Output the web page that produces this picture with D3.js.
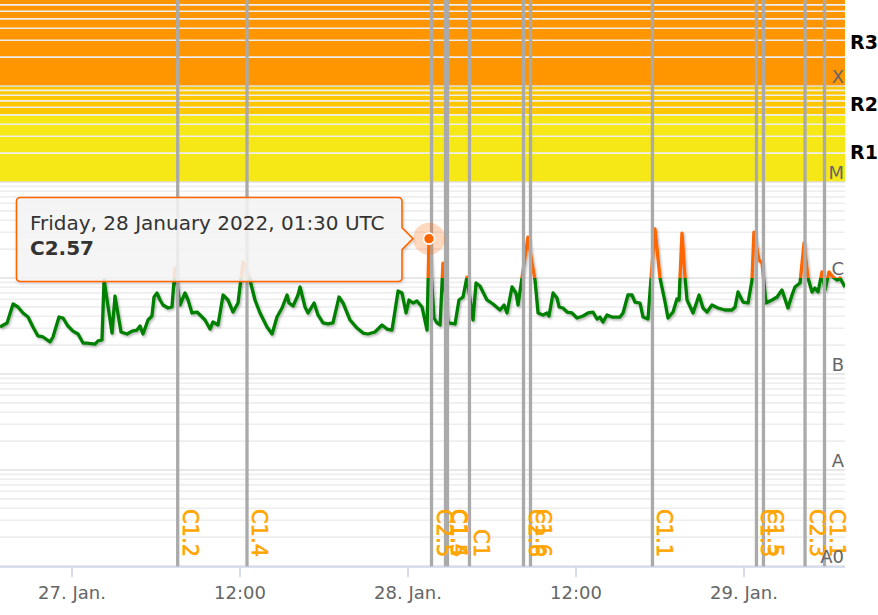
<!DOCTYPE html>
<html><head><meta charset="utf-8">
<script src="https://cdn.jsdelivr.net/npm/d3@7"></script>
<style>html,body{margin:0;padding:0;background:#fff;} svg{display:block;font-family:"DejaVu Sans",sans-serif;}</style>
</head><body>
<svg id="chart" width="878" height="615"></svg>
<script>
// ---- data (hours relative to 27 Jan 2022 00:00 UTC, flux in 1e-6 W/m^2) ----
const baseDate = Date.UTC(2022, 0, 27);
const domainHours = [-5.143, 55.214];
const hours = [
 -5.14,-4.64,-4.21,-3.86,-3.5,-3.14,-2.79,-2.43,-2.07,-1.57,
 -1.36,-0.93,-0.64,-0.29,0.07,0.43,0.79,1.07,1.64,1.86,
 2.14,2.29,2.86,3.07,3.5,3.93,4.29,4.64,4.86,5.07,
 5.43,5.71,5.86,6.07,6.29,6.5,6.86,7.14,7.36,7.71,
 8.07,8.29,8.57,8.93,9.29,9.5,9.86,10.07,10.43,10.79,
 11.14,11.5,11.86,12.21,12.71,13.07,13.43,13.93,14.29,14.64,
 15.0,15.36,15.5,15.79,16.14,16.29,16.64,16.86,17.29,17.57,
 17.93,18.29,18.64,19.07,19.36,19.86,20.36,20.79,21.14,21.64,
 22.14,22.5,22.86,23.29,23.57,23.86,24.07,24.36,24.64,25.0,
 25.36,25.5,25.86,26.07,26.29,26.5,26.71,26.86,27.36,27.64,
 27.93,28.21,28.64,28.86,29.14,29.64,30.07,30.57,30.86,31.07,
 31.43,31.71,31.86,32.14,32.57,32.86,33.07,33.29,33.64,33.93,
 34.07,34.36,34.64,34.79,35.07,35.36,35.71,36.07,36.5,36.86,
 37.21,37.5,37.71,37.93,38.21,38.57,39.14,39.36,39.71,40.0,
 40.21,40.57,40.79,41.14,41.36,41.64,42.0,42.36,42.57,42.93,
 43.21,43.36,43.57,43.79,43.93,44.36,44.79,45.07,45.36,45.71,
 46.14,46.64,47.14,47.36,47.57,47.93,48.29,48.57,48.71,49.07,
 49.29,49.57,50.0,50.36,50.71,51.14,51.43,51.64,52.0,52.29,
 52.57,52.86,53.07,53.29,53.57,53.79,54.07,54.36,54.64,54.86,
 55.21
];
const fluxMicro = [
 0.309,0.340,0.536,0.499,0.432,0.392,0.309,0.249,0.243,0.216,
 0.243,0.392,0.383,0.316,0.280,0.261,0.210,0.210,0.205,0.221,
 0.226,0.953,0.267,0.649,0.274,0.261,0.280,0.287,0.316,0.261,
 0.365,0.402,0.634,0.698,0.590,0.523,0.487,0.499,1.27,0.523,
 0.698,0.590,0.432,0.442,0.392,0.365,0.294,0.348,0.324,0.665,
 0.590,0.442,0.549,1.47,0.953,0.590,0.432,0.309,0.261,0.392,
 0.487,0.665,0.549,0.511,0.665,0.806,0.499,0.432,0.549,0.412,
 0.340,0.332,0.340,0.634,0.549,0.365,0.301,0.267,0.261,0.274,
 0.324,0.294,0.287,0.732,0.698,0.432,0.590,0.549,0.576,0.499,
 0.287,2.57,0.383,0.340,0.324,1.43,0.590,0.340,0.332,0.590,
 0.634,1.02,0.365,0.887,0.826,0.590,0.536,0.464,0.523,0.432,
 0.806,0.698,0.523,1.0,2.67,1.43,0.953,0.432,0.412,0.432,
 0.402,0.698,0.619,0.499,0.487,0.442,0.432,0.383,0.402,0.432,
 0.442,0.374,0.392,0.348,0.412,0.392,0.392,0.432,0.665,0.665,
 0.562,0.549,0.392,0.374,1.0,3.24,1.0,0.562,0.383,0.442,
 0.604,0.590,2.94,1.0,0.590,0.432,0.665,0.487,0.442,0.523,
 0.487,0.464,0.464,0.499,0.715,0.562,0.549,0.953,3.01,1.54,
 1.43,0.549,0.590,0.634,0.750,0.487,0.665,0.806,0.887,2.32,
 1.0,0.715,0.787,0.715,1.155,0.750,1.155,1.02,0.953,1.0,
 0.806
];
const flareHours  = [7.55, 12.5, 25.68, 26.68, 26.82, 28.39, 32.25, 32.75, 41.46, 48.89, 49.39, 52.36, 53.75];
const flareLabels = ["C1.2","C1.4","C2.5","C1.5","C1.4","C1","C2.6","C1.6","C1.1","C1.3","C1.5","C2.3","C1.1"];
const classNames  = ["A0","A","B","C","M","X"];
const classValues = [1e-9,1e-8,1e-7,1e-6,1e-5,1e-4];
const bandNames   = ["R1","R2","R3"];
const bandFrom    = [1e-5, 5e-5, 1e-4];
const bandTo      = [5e-5, 1e-4, 1e-3];
const bandColors  = ["#f5e816","#ffc700","#ff9600"];
const tickHours   = [0, 12, 24, 36, 48];
const tickLabels  = ["27. Jan.","12:00","28. Jan.","12:00","29. Jan."];
const tooltipHour = 25.5;
const tooltipFlux = 2.57e-6;
const threshold   = 1e-6;

// ---- setup ----
const toDate = h => new Date(baseDate + h * 3600e3);
const data = hours.map((h, i) => ({t: toDate(h), v: fluxMicro[i] * 1e-6}));
const plotW = 845, plotB = 566;
const x = d3.scaleUtc().domain(domainHours.map(toDate)).range([0, plotW]);
const y = d3.scaleLog().domain([1e-9, 1e-3]).range([plotB, -10]);

const svg = d3.select("#chart");
const defs = svg.append("defs");
defs.append("clipPath").attr("id","plot").append("rect").attr("x",0).attr("y",0).attr("width",plotW).attr("height",plotB+1);
defs.append("clipPath").attr("id","above").append("rect").attr("x",0).attr("y",-20).attr("width",plotW).attr("height",y(threshold)+20);
defs.append("clipPath").attr("id","below").append("rect").attr("x",0).attr("y",y(threshold)).attr("width",plotW).attr("height",plotB-y(threshold)+5);
const sh = defs.append("filter").attr("id","shadow").attr("x","-5%").attr("y","-20%").attr("width","110%").attr("height","140%");
sh.append("feDropShadow").attr("dx",1.2).attr("dy",1.6).attr("stdDeviation",1.3).attr("flood-color","#000").attr("flood-opacity",0.3);
const sh2 = defs.append("filter").attr("id","tshadow").attr("x","-10%").attr("y","-20%").attr("width","120%").attr("height","140%");
sh2.append("feDropShadow").attr("dx",1).attr("dy",1.5).attr("stdDeviation",1.5).attr("flood-color","#000").attr("flood-opacity",0.2);

const plot = svg.append("g").attr("clip-path","url(#plot)");

// bands
plot.selectAll("rect.band").data(bandNames).join("rect").attr("class","band")
  .attr("x",0).attr("width",plotW)
  .attr("y",(d,i)=>y(bandTo[i])).attr("height",(d,i)=>y(bandFrom[i])-y(bandTo[i]))
  .attr("fill",(d,i)=>bandColors[i]);

// gridlines
const minor = [], major = [];
for (let e = -9; e <= -4; e++) {
  major.push(Math.pow(10, e));
  for (let k = 2; k <= 9; k++) minor.push(k * Math.pow(10, e));
}
plot.selectAll("line.minor").data(minor).join("line").attr("class","minor")
  .attr("x1",0).attr("x2",plotW).attr("y1",d=>y(d)).attr("y2",d=>y(d))
  .attr("stroke","#eeeeee").attr("stroke-width",1.6);
plot.selectAll("line.major").data(major).join("line").attr("class","major")
  .attr("x1",0).attr("x2",plotW).attr("y1",d=>y(d)).attr("y2",d=>y(d))
  .attr("stroke","#e0e0e0").attr("stroke-width",1.6);

// series
const line = d3.line().x(d=>x(d.t)).y(d=>y(d.v));
const sg = plot.append("g").attr("filter","url(#shadow)");
sg.append("path").datum(data).attr("clip-path","url(#below)").attr("d",line)
  .attr("fill","none").attr("stroke","#008000").attr("stroke-width",3.3).attr("stroke-linejoin","round");
sg.append("path").datum(data).attr("clip-path","url(#above)").attr("d",line)
  .attr("fill","none").attr("stroke","#ff6600").attr("stroke-width",3.3).attr("stroke-linejoin","round");

// flare lines
plot.selectAll("line.flare").data(flareHours).join("line").attr("class","flare")
  .attr("x1",d=>x(toDate(d))).attr("x2",d=>x(toDate(d))).attr("y1",0).attr("y2",plotB+1)
  .attr("stroke","#aaaaaa").attr("stroke-width",3.3);
svg.selectAll("text.flare").data(flareHours).join("text").attr("class","flare")
  .attr("transform",d=>`translate(${x(toDate(d))+5},557) rotate(90)`)
  .attr("text-anchor","end").attr("font-size",21).attr("fill","#ffa500")
  .attr("stroke","#ffa500").attr("stroke-width",0.6)
  .text((d,i)=>flareLabels[i]);

// y labels
svg.selectAll("text.ylab").data(classValues).join("text").attr("class","ylab")
  .attr("x",844).attr("y",d=>y(d)-3).attr("text-anchor","end")
  .attr("font-size",18).attr("fill","#666").text((d,i)=>classNames[i]);
// band labels
svg.selectAll("text.blab").data(bandNames).join("text").attr("class","blab")
  .attr("x",850).attr("y",(d,i)=>(y(bandFrom[i])+y(bandTo[i]))/2+11)
  .attr("font-size",19).attr("font-weight","bold").attr("fill","#000").text(d=>d);

// x axis
svg.append("line").attr("x1",0).attr("x2",plotW).attr("y1",plotB+1).attr("y2",plotB+1)
  .attr("stroke","#ccd6eb").attr("stroke-width",1.6);
const ticks = tickHours.map(toDate);
svg.selectAll("line.tick").data(ticks).join("line").attr("class","tick")
  .attr("x1",d=>x(d)).attr("x2",d=>x(d)).attr("y1",plotB+1).attr("y2",plotB+11)
  .attr("stroke","#ccd6eb").attr("stroke-width",1.6);
svg.selectAll("text.xlab").data(ticks).join("text").attr("class","xlab")
  .attr("x",d=>x(d)).attr("y",599).attr("text-anchor","middle")
  .attr("font-size",18).attr("fill","#666").text((d,i)=>tickLabels[i]);

// hover marker
const px = x(toDate(tooltipHour)), py = y(tooltipFlux);
svg.append("circle").attr("cx",px).attr("cy",py).attr("r",16).attr("fill","#ff6600").attr("fill-opacity",0.25);
svg.append("circle").attr("cx",px).attr("cy",py).attr("r",5.5).attr("fill","#ff6600").attr("stroke","#fff").attr("stroke-width",1.6);

// tooltip
const bx0 = 16.5, bx1 = px - 27, by0 = 197.5, by1 = 281.5, r = 4, tip = px - 16;
const tp = `M${bx0+r},${by0} L${bx1-r},${by0} Q${bx1},${by0} ${bx1},${by0+r} L${bx1},${py-11} L${tip},${py} L${bx1},${py+11} L${bx1},${by1-r} Q${bx1},${by1} ${bx1-r},${by1} L${bx0+r},${by1} Q${bx0},${by1} ${bx0},${by1-r} L${bx0},${by0+r} Q${bx0},${by0} ${bx0+r},${by0} Z`;
svg.append("path").attr("d",tp).attr("fill","rgba(247,247,247,0.85)").attr("stroke","#ff6600").attr("stroke-width",1.6).attr("filter","url(#tshadow)");
const fmt = d3.utcFormat("%A, %-d %B %Y, %H:%M UTC");
svg.append("text").attr("x",30).attr("y",230).attr("font-size",20).attr("fill","#333").text(fmt(toDate(tooltipHour)));
const cls = ["A","B","C","M","X"][Math.floor(Math.log10(tooltipFlux)) + 8];
const mant = tooltipFlux / Math.pow(10, Math.floor(Math.log10(tooltipFlux)));
svg.append("text").attr("x",30).attr("y",255).attr("font-size",20).attr("font-weight","bold").attr("fill","#333").text(cls + mant.toFixed(2));
</script></body></html>
